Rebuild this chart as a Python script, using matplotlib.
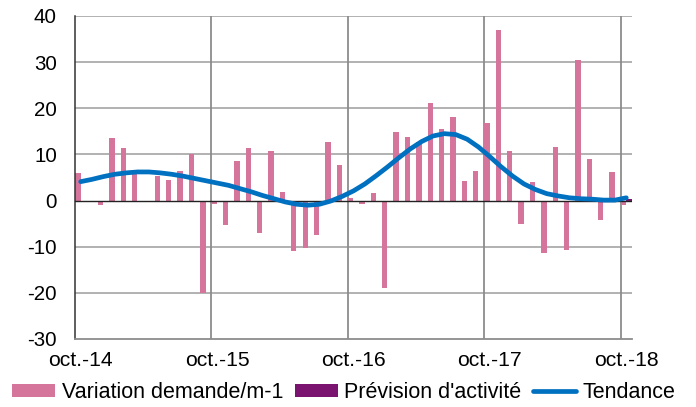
import matplotlib
matplotlib.use("Agg")
import matplotlib.pyplot as plt
import numpy as np

plt.rcParams['font.family'] = ['Liberation Sans', 'DejaVu Sans']
plt.rcParams['axes.unicode_minus'] = False

# --- data (monthly, oct-14 .. oct-18) ---
tick_labels = ['oct.-14', 'oct.-15', 'oct.-16', 'oct.-17', 'oct.-18']
variation = [5.9, -0.2, -0.9, 13.6, 11.3, 5.7, 0.0, 5.4, 4.5, 6.4, 10.1, -20.0,
             -0.7, -5.3, 8.5, 11.4, -7.0, 10.8, 1.9, -11.0, -10.2, -7.4, 12.7, 7.7,
             0.5, -0.7, 1.7, -19.0, 14.8, 13.8, 12.6, 21.2, 15.6, 18.2, 4.2, 6.3,
             16.9, 37.0, 10.7, -5.0, 4.1, -11.3, 11.7, -10.8, 30.4, 8.9, -4.2, 6.2,
             -0.9]
prevision = [np.nan] * 48 + [0.4]
tendance = [4.1, 4.6, 5.2, 5.7, 6.0, 6.2, 6.2, 6.0, 5.7, 5.3, 4.8, 4.3,
            3.8, 3.3, 2.6, 1.9, 1.1, 0.4, -0.3, -0.8, -1.0, -0.8, -0.1, 0.9,
            2.1, 3.6, 5.4, 7.3, 9.3, 11.2, 12.8, 14.0, 14.5, 14.3, 13.3, 11.6,
            9.5, 7.3, 5.3, 3.6, 2.4, 1.5, 1.0, 0.6, 0.4, 0.3, 0.1, 0.1,
            0.6]

n = len(variation)
x = np.arange(n)

fig = plt.figure(figsize=(6.96, 4.07), dpi=100)
ax = fig.add_axes([0.1078, 0.1671, 0.8002, 0.7936])

# gridlines
for v in range(-20, 41, 10):
    if v != 0:
        ax.axhline(v, color='#ABABAB', lw=1.3, zorder=0)
for b in range(12, n, 12):
    ax.axvline(b - 0.5, color='#8C8C8C', lw=1.3, zorder=0)

b1 = ax.bar(x - 0.25, variation, width=0.47, color='#D5759C', label='Variation demande/m-1', zorder=2)
b2 = ax.bar(x + 0.25, prevision, width=0.47, color='#7B1470', label="Prévision d'activité", zorder=2)
ax.axhline(0, color='#222222', lw=1.0, zorder=3)
l1, = ax.plot(x, tendance, color='#0070C0', lw=3.4, solid_capstyle='round', label='Tendance', zorder=4)

ax.set_xlim(-0.5, n - 0.5)
ax.set_ylim(-30, 40)
ax.set_yticks(range(-30, 41, 10))
ax.set_xticks(range(0, n, 12))
ax.set_xticklabels(tick_labels)
ax.tick_params(axis='y', length=0, pad=13, labelsize=14.8)
ax.tick_params(axis='x', length=0, pad=9, labelsize=15.2)

for s in ['top', 'right']:
    ax.spines[s].set_visible(False)
ax.spines['left'].set_color('#333333')
ax.spines['left'].set_linewidth(1.1)
ax.spines['bottom'].set_color('#8C8C8C')
ax.spines['bottom'].set_linewidth(1.3)

fig.legend(handles=[b1, b2, l1], loc='lower left', bbox_to_anchor=(0.005, -0.012), ncol=3,
           frameon=False, fontsize=15.5, handlelength=2.0, handleheight=0.5,
           handletextpad=0.3, columnspacing=0.55, borderaxespad=0)

fig.savefig('out.png', dpi=100)
